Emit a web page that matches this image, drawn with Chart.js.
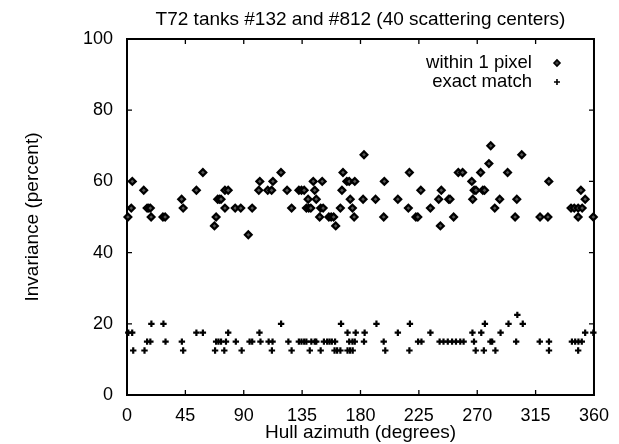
<!DOCTYPE html>
<html><head><meta charset="utf-8">
<script src="https://cdn.jsdelivr.net/npm/chart.js@4.4.1/dist/chart.umd.min.js"></script>
<style>html,body{margin:0;padding:0;background:#fff}#wrap{width:619px;height:444px}</style>
</head><body><div id="wrap"><canvas id="c" width="619" height="444"></canvas></div>
<script>
const chartTitle = 'T72 tanks #132 and #812 (40 scattering centers)';
const xAxisTitle = 'Hull azimuth (degrees)';
const yAxisTitle = 'Invariance (percent)';
const seriesNames = ['within 1 pixel', 'exact match'];
const xTickValues = [0, 45, 90, 135, 180, 225, 270, 315, 360];
const yTickValues = [0, 20, 40, 60, 80, 100];

const withinAz = [0.7, 3.3, 4.1, 12.9, 15.5, 16.8, 18, 18.6, 27.7, 29.4, 42.1, 43.3, 53.5, 58.5, 67.4, 68.7, 69.9, 71.2, 72.5, 75.5, 75.5, 78, 83.4, 87.7, 93.5, 96.5, 101.6, 102.4, 108.5, 111.5, 112.5, 118.7, 123.4, 126.9, 132.5, 134.5, 136.6, 138.3, 139.6, 140.1, 141.7, 143.6, 144.7, 145.9, 148.5, 149.3, 150.5, 151.2, 155.6, 157.4, 159.3, 160.9, 164.5, 165.7, 166.5, 169.5, 171.3, 172.1, 173.8, 175.1, 175.6, 182, 182.7, 191.6, 197.9, 198.4, 208.8, 216.9, 217.7, 222.7, 224.2, 226.5, 233.9, 240.3, 241.6, 242.3, 248, 249, 251.8, 255.4, 258.7, 265.8, 266.5, 267.6, 269, 272.6, 274.3, 275.6, 279, 280.4, 283.5, 287.3, 293.4, 299.2, 300.5, 304.3, 318.4, 324.5, 325.2, 342.3, 344.8, 347.8, 347.8, 349.9, 350.9, 353.2, 359.5];
const withinPct = [50, 52.5, 60, 57.5, 52.5, 52.5, 52.5, 50, 50, 50, 55, 52.5, 57.5, 62.5, 47.5, 50, 55, 55, 55, 57.5, 52.5, 57.5, 52.5, 52.5, 45, 52.5, 57.5, 60, 57.5, 57.5, 60, 62.5, 57.5, 52.5, 57.5, 57.5, 57.5, 52.5, 55, 52.5, 52.5, 60, 57.5, 55, 50, 52.5, 60, 52.5, 50, 50, 50, 47.5, 52.5, 57.5, 62.5, 60, 60, 55, 52.5, 50, 60, 55, 67.5, 55, 50, 60, 55, 52.5, 62.5, 50, 50, 57.5, 52.5, 55, 47.5, 57.5, 55, 55, 50, 62.5, 62.5, 60, 55, 57.5, 57.5, 62.5, 57.5, 57.5, 65, 70, 52.5, 55, 62.5, 50, 55, 67.5, 50, 50, 60, 52.5, 52.5, 52.5, 50, 57.5, 52.5, 55, 50];

const exactAz = [1, 4, 4.8, 13.5, 15.5, 18, 18.8, 28.1, 29.7, 42.3, 43.3, 53.5, 58.5, 67.9, 68.7, 70.5, 72.5, 75, 76.3, 78, 83.9, 88.4, 94.5, 96.5, 102.1, 102.9, 109.2, 111.7, 112.2, 118.8, 124.4, 126.9, 132.5, 134.5, 136.6, 138.3, 140.9, 142.1, 144.7, 145.9, 149.3, 151.8, 154.3, 156.1, 157.9, 160.4, 160, 162, 164.5, 165, 170, 170, 172, 174, 171.3, 173.8, 175.6, 176.3, 182.7, 183.2, 192.3, 197.9, 199.1, 208.8, 217.7, 218.1, 224.4, 227, 233.9, 241, 244, 247.3, 250.6, 253.6, 256.9, 259.5, 266.3, 267.5, 268.8, 273.1, 275.1, 275.9, 280.2, 281.5, 284, 288, 294.1, 300, 300.9, 305.1, 318.2, 325.3, 325.3, 343, 345.5, 347.8, 348, 350.6, 353.2, 359.5];
const exactPct = [17.5, 17.5, 12.5, 12.5, 15, 15, 20, 20, 15, 15, 12.5, 17.5, 17.5, 12.5, 15, 15, 15, 12.5, 15, 17.5, 15, 12.5, 15, 15, 17.5, 15, 15, 12.5, 15, 20, 15, 12.5, 15, 15, 15, 15, 12.5, 15, 15, 15, 12.5, 15, 15, 15, 15, 15, 12.5, 12.5, 12.5, 20, 17.5, 12.5, 12.5, 12.5, 15, 15, 15, 17.5, 15, 17.5, 20, 15, 12.5, 17.5, 12.5, 20, 15, 15, 17.5, 15, 15, 15, 15, 15, 15, 15, 17.5, 15, 12.5, 17.5, 12.5, 20, 15, 15, 12.5, 17.5, 20, 15, 22.5, 20, 15, 15, 12.5, 15, 15, 12.5, 15, 15, 17.5, 17.5];

const FONT = '"Liberation Sans", Arial, Helvetica, sans-serif';
const toPts = (xs, ys) => xs.map((v, i) => ({x: v, y: ys[i]}));

const framePlugin = {
  id: 'frame',
  beforeDatasetsDraw(chart) {
    const {ctx, chartArea: a, scales: {x, y}} = chart;
    ctx.save();
    ctx.strokeStyle = '#000';
    ctx.lineWidth = 2;
    ctx.strokeRect(a.left, a.top, a.right - a.left, a.bottom - a.top);
    ctx.lineWidth = 1.3;
    ctx.beginPath();
    x.ticks.forEach(t => {
      const p = x.getPixelForValue(t.value);
      ctx.moveTo(p, a.bottom); ctx.lineTo(p, a.bottom - 5);
      ctx.moveTo(p, a.top); ctx.lineTo(p, a.top + 5);
    });
    y.ticks.forEach(t => {
      const p = y.getPixelForValue(t.value);
      ctx.moveTo(a.left, p); ctx.lineTo(a.left + 5, p);
      ctx.moveTo(a.right, p); ctx.lineTo(a.right - 5, p);
    });
    ctx.stroke();
    ctx.restore();
  }
};

const legendPlugin = {
  id: 'keyBox',
  afterDraw(chart) {
    const {ctx, chartArea: a} = chart;
    ctx.save();
    ctx.fillStyle = '#000';
    ctx.font = '18.5px ' + FONT;
    ctx.textAlign = 'right';
    ctx.textBaseline = 'middle';
    const tx = a.right - 62, mx = a.right - 37;
    const y1 = a.top + 24, y2 = a.top + 43;
    ctx.fillText(chart.data.datasets[0].label, tx, y1);
    ctx.fillText(chart.data.datasets[1].label, tx, y2);
    ctx.beginPath();
    ctx.moveTo(mx - 3, y1); ctx.lineTo(mx, y1 - 3); ctx.lineTo(mx + 3, y1); ctx.lineTo(mx, y1 + 3); ctx.closePath();
    ctx.fillStyle = '#444'; ctx.fill();
    ctx.lineWidth = 1.6; ctx.strokeStyle = '#000'; ctx.stroke();
    ctx.beginPath();
    ctx.moveTo(mx - 3, y2); ctx.lineTo(mx + 3, y2);
    ctx.moveTo(mx, y2 - 3); ctx.lineTo(mx, y2 + 3);
    ctx.lineWidth = 1.6; ctx.stroke();
    ctx.restore();
  }
};

new Chart(document.getElementById('c'), {
  type: 'scatter',
  data: {
    datasets: [
      {label: seriesNames[0], data: toPts(withinAz, withinPct), pointStyle: 'rectRot', pointRadius: 3.4, pointBorderWidth: 2.2, borderColor: '#000', backgroundColor: '#555', showLine: false, clip: false},
      {label: seriesNames[1], data: toPts(exactAz, exactPct), pointStyle: 'cross', pointRadius: 3.2, pointBorderWidth: 2.2, borderColor: '#000', backgroundColor: '#000', showLine: false, clip: false}
    ]
  },
  options: {
    responsive: false,
    animation: false,
    devicePixelRatio: 1,
    events: [],
    layout: {padding: {left: 0, right: 20, top: 0, bottom: 0}},
    plugins: {
      legend: {display: false},
      tooltip: {enabled: false},
      title: {display: true, text: chartTitle, color: '#000', fullSize: false, font: {family: FONT, size: 19, weight: 'normal', lineHeight: 1.2}, padding: {top: 8, bottom: 8.2}}
    },
    scales: {
      x: {
        type: 'linear', min: 0, max: 360,
        afterBuildTicks: s => { s.ticks = xTickValues.map(v => ({value: v})); },
        afterFit: s => { s.height = 49; },
        grid: {display: false, drawTicks: false},
        border: {display: false},
        ticks: {color: '#000', font: {family: FONT, size: 18}, padding: 10, maxRotation: 0, autoSkip: false},
        title: {display: true, text: xAxisTitle, color: '#000', font: {family: FONT, size: 19, lineHeight: 1.2}, padding: {top: 0, bottom: 0}}
      },
      y: {
        type: 'linear', min: 0, max: 100,
        afterBuildTicks: s => { s.ticks = yTickValues.map(v => ({value: v})); },
        afterFit: s => { s.width = 127; },
        grid: {display: false, drawTicks: false},
        border: {display: false},
        ticks: {color: '#000', font: {family: FONT, size: 18}, padding: 14, autoSkip: false},
        title: {display: true, text: yAxisTitle, color: '#000', font: {family: FONT, size: 19, lineHeight: 1.2}, padding: {top: 21, bottom: 0}}
      }
    }
  },
  plugins: [framePlugin, legendPlugin]
});
</script></body></html>
